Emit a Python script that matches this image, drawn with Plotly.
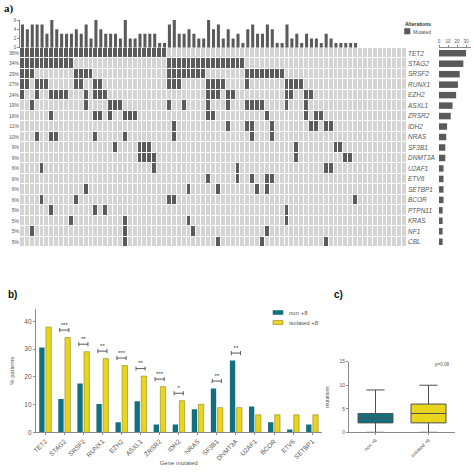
import numpy as np
import plotly.graph_objects as go


# ---- panel a: oncoprint of the isolated +8 cohort ----
N_PATIENTS = 79

GENES = [
    "TET2", "STAG2", "SRSF2", "RUNX1", "EZH2", "ASXL1", "ZRSR2", "IDH2", "NRAS",
    "SF3B1", "DNMT3A", "U2AF1", "ETV6", "SETBP1", "BCOR", "PTPN11", "KRAS", "NF1", "CBL",
]
GENE_PCT = [
    "36%", "34%", "29%", "27%", "24%", "19%", "16%", "11%", "10%",
    "9%", "9%", "6%", "6%", "6%", "6%", "5%", "5%", "5%", "5%",
]
# patient columns (0-based, left to right) carrying a mutation, one list per gene
MUTATED_COLUMNS = [
    [0, 1, 2, 3, 4, 5, 6, 7, 8, 9, 10, 11, 12, 13, 14, 15, 16, 17, 18, 19,
     20, 21, 22, 23, 24, 25, 26, 27, 28, 29],
    [0, 1, 2, 3, 4, 5, 6, 7, 8, 9, 10, 30, 31, 32, 33, 34, 35, 36, 37, 38,
     39, 40, 41, 42, 43, 44, 45],
    [0, 1, 2, 11, 12, 13, 14, 30, 31, 32, 33, 34, 35, 36, 37, 46, 47, 48, 49,
     50, 51, 52, 53],
    [0, 1, 3, 4, 5, 11, 12, 15, 16, 30, 31, 32, 38, 39, 40, 41, 46, 54, 55, 56, 57],
    [0, 3, 6, 7, 8, 9, 13, 15, 16, 17, 38, 39, 40, 42, 43, 54, 55, 58, 59],
    [2, 13, 18, 19, 20, 30, 33, 38, 42, 46, 47, 48, 49, 54, 58],
    [6, 15, 16, 18, 21, 22, 23, 38, 39, 50, 58, 60, 61],
    [31, 42, 46, 47, 51, 59, 60, 62, 63],
    [3, 6, 7, 15, 21, 31, 47, 51],
    [19, 24, 25, 26, 56, 64, 65],
    [24, 25, 26, 27, 56, 66, 67],
    [4, 27, 44, 62, 63],
    [38, 44, 47, 50, 51],
    [13, 34, 40, 48, 50],
    [4, 11, 30, 31, 68],
    [6, 15, 17, 54],
    [10, 21, 34, 54],
    [2, 21, 35, 50],
    [21, 40, 49, 62],
]

# ---- panel b: % patients mutated, non +8 vs isolated +8 ----
BAR_GENES = [
    "TET2", "STAG2", "SRSF2", "RUNX1", "EZH2", "ASXL1", "ZRSR2", "IDH2",
    "NRAS", "SF3B1", "DNMT3A", "U2AF1", "BCOR", "ETV6", "SETBP1",
]
NON_TRISOMY = [30.6, 12.0, 17.6, 10.2, 3.6, 11.2, 2.8, 2.8, 8.3, 15.8, 25.9, 9.3, 3.6, 1.0, 2.8]
ISOLATED_TRISOMY = [38.0, 34.2, 29.1, 26.6, 24.1, 20.3, 16.5, 11.4, 10.1, 8.9, 8.9, 6.3, 6.3, 6.3, 6.3]
SIGNIFICANCE = ["", "***", "**", "**", "***", "**", "***", "*", "", "**", "**", "", "", "", ""]

# ---- panel c: number of mutations per patient ----
BOX_GROUPS = ["non +8", "isolated +8"]
BOX_LOW = [0, 0]
BOX_Q1 = [2, 2]
BOX_MEDIAN = [3, 4]
BOX_Q3 = [4, 6]
BOX_HIGH = [9, 10]
P_VALUE = "p=0.08"

DARK = "#5a5a5a"
LIGHT = "#d4d4d4"
TEAL = "#12707f"
YELLOW = "#e8d51c"
YELLOW_EDGE = "#8f8522"
TEXT = "#555555"
AXIS = "#8a8a8a"
FONT = "Liberation Sans, Arial, sans-serif"
W = 474.0


def px_x(v):
    return v / W


def px_y(v):
    return 1 - v / W


def key_box(x0, y0, x1, y1, color, edge=None):
    """Small legend swatch in paper coordinates (pixel inputs)."""
    return {
        "type": "rect", "xref": "paper", "yref": "paper",
        "x0": px_x(x0), "x1": px_x(x1), "y0": px_y(y1), "y1": px_y(y0),
        "fillcolor": color, "line": {"color": edge or color, "width": 0.6},
    }


def label(text, x, y, size, color=TEXT, xanchor="left", family=FONT):
    return {
        "text": text, "x": px_x(x), "y": px_y(y), "xref": "paper", "yref": "paper",
        "xanchor": xanchor, "yanchor": "middle", "showarrow": False,
        "font": {"family": family, "size": size, "color": color},
    }


def build_figure():
    matrix = np.zeros((len(GENES), N_PATIENTS))
    for row, cols in enumerate(MUTATED_COLUMNS):
        matrix[row, cols] = 1
    per_patient = matrix.sum(axis=0)
    per_gene = matrix.sum(axis=1)
    patients = np.arange(N_PATIENTS)
    rows = np.arange(len(GENES))

    fig = go.Figure()

    # mutations per patient (top)
    fig.add_trace(go.Bar(
        x=patients, y=per_patient, width=0.62, marker_color=DARK,
        xaxis="x", yaxis="y", hoverinfo="skip",
    ))
    # oncoprint grid
    fig.add_trace(go.Heatmap(
        z=matrix, x=patients, y=rows, xaxis="x2", yaxis="y2",
        colorscale=[[0, LIGHT], [1, DARK]], zmin=0, zmax=1,
        showscale=False, xgap=1, ygap=1, hoverinfo="skip",
    ))
    # carrier for the gene-name axis on the right of the grid
    fig.add_trace(go.Scatter(
        x=[None], y=[None], xaxis="x2", yaxis="y3", mode="markers", hoverinfo="skip",
    ))
    # mutations per gene (right)
    fig.add_trace(go.Bar(
        x=per_gene, y=rows, orientation="h", width=0.62, marker_color=DARK,
        xaxis="x4", yaxis="y4", hoverinfo="skip",
    ))

    # panel b
    pos = np.arange(len(BAR_GENES))
    fig.add_trace(go.Bar(
        x=pos - 0.175, y=NON_TRISOMY, width=0.28, marker_color=TEAL,
        marker_line_width=0, xaxis="x5", yaxis="y5", name="non +8",
    ))
    fig.add_trace(go.Bar(
        x=pos + 0.175, y=ISOLATED_TRISOMY, width=0.28, marker_color=YELLOW,
        marker_line={"color": YELLOW_EDGE, "width": 0.6},
        xaxis="x5", yaxis="y5", name="isolated +8",
    ))
    sig_idx = [i for i, s in enumerate(SIGNIFICANCE) if s]
    sig_y = [max(NON_TRISOMY[i], ISOLATED_TRISOMY[i]) + 2.7 for i in sig_idx]
    fig.add_trace(go.Scatter(
        x=sig_idx, y=sig_y, mode="markers+text",
        text=[SIGNIFICANCE[i] for i in sig_idx], textposition="top center",
        textfont={"size": 6, "color": "#333333"},
        marker={"size": 1, "color": "rgba(0,0,0,0)"},
        error_x={"type": "constant", "value": 0.24, "color": "#4a4a4a",
                 "thickness": 0.9, "width": 2},
        xaxis="x5", yaxis="y5", hoverinfo="skip",
    ))

    # panel c
    for i, (group, color) in enumerate(zip(BOX_GROUPS, [TEAL, YELLOW])):
        fig.add_trace(go.Box(
            x=[group], q1=[BOX_Q1[i]], median=[BOX_MEDIAN[i]], q3=[BOX_Q3[i]],
            lowerfence=[BOX_LOW[i]], upperfence=[BOX_HIGH[i]],
            fillcolor=color, line={"color": "#505050", "width": 1},
            width=0.66, whiskerwidth=0.52,
            xaxis="x6", yaxis="y6", hoverinfo="skip",
        ))

    grid_x = [px_x(20), px_x(407)]
    grid_y = [px_y(247), px_y(48)]
    small = {"family": FONT, "size": 4.5, "color": TEXT}
    plain = {"showgrid": False, "zeroline": False, "automargin": False}
    line = {"ticks": "outside", "ticklen": 2, "tickcolor": AXIS,
            "showline": True, "linecolor": AXIS}

    fig.update_layout(
        template="none",
        width=474,
        height=474,
        margin={"l": 0, "r": 0, "t": 0, "b": 0, "pad": 0},
        paper_bgcolor="white",
        plot_bgcolor="white",
        barmode="overlay",
        showlegend=False,
        font={"family": FONT, "size": 6, "color": TEXT},
        xaxis={"domain": grid_x, "range": [-0.5, N_PATIENTS - 0.5],
               "visible": False, "anchor": "y", **plain},
        yaxis={"domain": [px_y(47.7), px_y(20)], "range": [0, 6],
               "tickvals": [0, 2, 4, 6], "tickfont": small, "linewidth": 0.6,
               "anchor": "x", **line, **plain},
        xaxis2={"domain": grid_x, "range": [-0.5, N_PATIENTS - 0.5],
                "visible": False, "anchor": "y2", **plain},
        yaxis2={"domain": grid_y, "range": [len(GENES) - 0.5, -0.5],
                "tickvals": list(rows), "ticktext": GENE_PCT,
                "tickfont": {"family": FONT, "size": 5, "color": TEXT},
                "ticks": "", "showline": False, "anchor": "x2", **plain},
        yaxis3={"overlaying": "y2", "side": "right",
                "range": [len(GENES) - 0.5, -0.5],
                "tickvals": list(rows),
                "ticktext": [f"<i>{g}</i>" for g in GENES],
                "tickfont": {"family": FONT, "size": 6.5, "color": TEXT},
                "ticks": "", "showline": False, "anchor": "x2", **plain},
        xaxis4={"domain": [px_x(439), px_x(471)], "range": [0, 35.5],
                "side": "top", "tickvals": [0, 10, 20, 30], "tickfont": small,
                "linewidth": 0.6, "anchor": "y4", **line, **plain},
        yaxis4={"domain": grid_y, "range": [len(GENES) - 0.5, -0.5],
                "visible": False, "anchor": "x4", **plain},
        xaxis5={"domain": [px_x(35.7), px_x(321.7)],
                "range": [-0.5, len(BAR_GENES) - 0.5],
                "tickvals": list(pos), "ticktext": BAR_GENES, "tickangle": -45,
                "tickfont": {"family": FONT, "size": 6.5, "color": TEXT},
                "linewidth": 0.8,
                "title": {"text": "Gene mutated", "font": {"size": 6, "color": TEXT}},
                "anchor": "y5", **line, **plain},
        yaxis5={"domain": [px_y(432.3), px_y(309.3)], "range": [0, 44.4],
                "tickvals": [0, 10, 20, 30, 40],
                "tickfont": {"family": FONT, "size": 6.5, "color": TEXT},
                "linewidth": 0.8,
                "title": {"text": "% patients", "font": {"size": 6, "color": TEXT}},
                "anchor": "x5", **line, **plain},
        xaxis6={"domain": [px_x(349), px_x(455)], "type": "category",
                "range": [-0.5, 1.5], "tickangle": -45,
                "tickfont": {"family": FONT, "size": 5, "color": TEXT},
                "linewidth": 0.8, "anchor": "y6", **line, **plain},
        yaxis6={"domain": [px_y(432.3), px_y(361.7)], "range": [0, 15],
                "tickvals": [0, 5, 10, 15],
                "tickfont": {"family": FONT, "size": 5, "color": TEXT},
                "linewidth": 0.8,
                "title": {"text": "mutations", "font": {"size": 5, "color": TEXT}},
                "anchor": "x6", **line, **plain},
        shapes=[
            key_box(404.5, 28.5, 410, 34, DARK),
            key_box(273, 310.5, 283, 314.5, TEAL),
            key_box(273, 320.5, 283, 324.5, YELLOW, YELLOW_EDGE),
        ],
        annotations=[
            label("<b>Alterations</b>", 403, 24, 5, "#333333"),
            label("Mutated", 411, 31.5, 5),
            label("non +8", 287, 312.5, 6),
            label("isolated +8", 287, 322.5, 6),
            label("<b>a)</b>", 2, 9, 11, "#111111", family="Liberation Serif, serif"),
            label("<b>b)</b>", 6, 294, 10, "#111111"),
            label("<b>c)</b>", 332, 294, 10, "#111111"),
            label(P_VALUE, 451, 364, 4.5, xanchor="right"),
        ],
    )
    return fig


def main():
    fig = build_figure()
    fig.write_html(
        "out.html",
        post_script="document.body.style.margin='0';",
        config={"displayModeBar": False},
    )


if __name__ == "__main__":
    main()
